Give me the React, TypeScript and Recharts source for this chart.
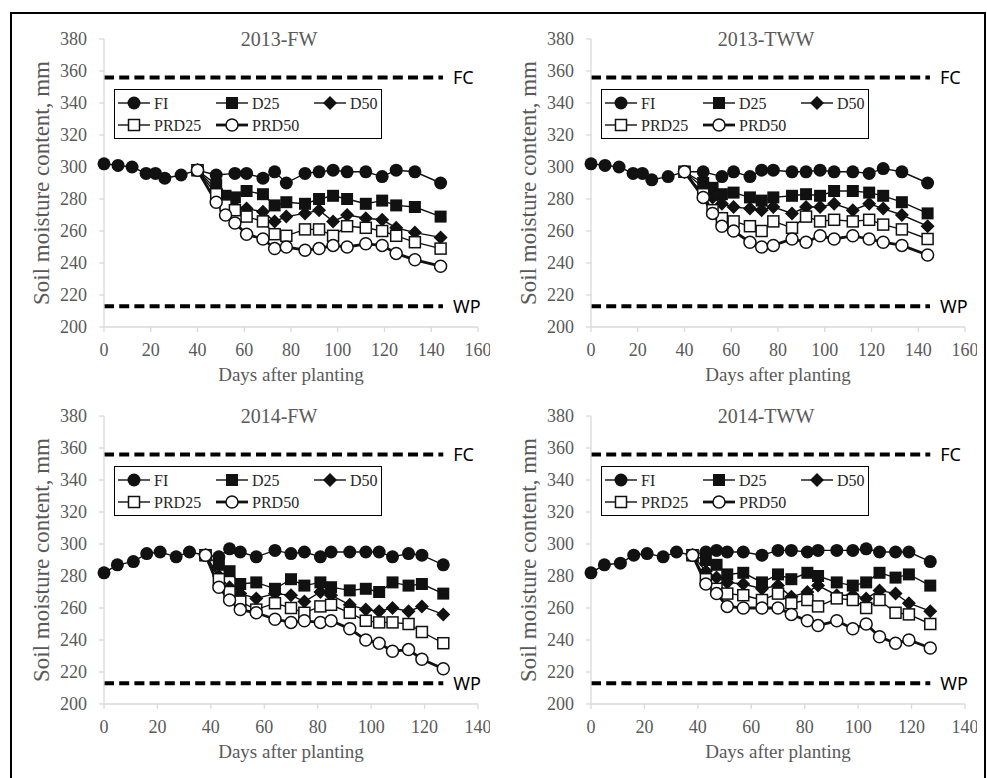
import React from 'react';
import { LineChart, Line, XAxis, YAxis } from 'recharts';

// ---------- data ----------
const seriesNames = ['FI', 'D25', 'D50', 'PRD25', 'PRD50'];
const yTicks = [200, 220, 240, 260, 280, 300, 320, 340, 360, 380];
const xTicks13 = [0, 20, 40, 60, 80, 100, 120, 140, 160];
const xTicks14 = [0, 20, 40, 60, 80, 100, 120, 140];
const fcValue = 356;
const wpValue = 213;
const refEnd13 = 145;
const refEnd14 = 127;

const fiDays13 = [0, 6, 12, 18, 22, 26, 33, 40, 48, 56, 61, 68, 73, 78, 86, 92, 98, 104, 112, 119, 125, 133, 144];
const trtDays13 = [40, 48, 52, 56, 61, 68, 73, 78, 86, 92, 98, 104, 112, 119, 125, 133, 144];
const fiDays14 = [0, 5, 11, 16, 21, 27, 32, 38, 43, 47, 51, 57, 64, 70, 75, 81, 85, 92, 98, 103, 108, 114, 119, 127];
const trtDays14 = [38, 43, 47, 51, 57, 64, 70, 75, 81, 85, 92, 98, 103, 108, 114, 119, 127];

// 2013-FW
const fw13FI = [302, 301, 300, 296, 296, 293, 295, 298, 295, 296, 296, 293, 297, 290, 296, 297, 298, 297, 297, 294, 298, 297, 290];
const fw13D25 = [298, 289, 282, 281, 285, 283, 276, 278, 277, 280, 282, 280, 277, 279, 276, 275, 269];
const fw13D50 = [298, 286, 279, 275, 274, 272, 266, 269, 271, 273, 266, 270, 268, 267, 262, 259, 256];
const fw13PRD25 = [298, 283, 276, 273, 269, 266, 258, 257, 261, 261, 257, 263, 262, 260, 257, 253, 249];
const fw13PRD50 = [298, 278, 270, 265, 258, 255, 249, 250, 248, 249, 251, 250, 252, 251, 246, 242, 238];

// 2013-TWW
const tww13FI = [302, 301, 300, 296, 296, 292, 294, 297, 297, 294, 297, 294, 298, 298, 297, 297, 298, 297, 297, 296, 299, 297, 290];
const tww13D25 = [297, 290, 287, 283, 284, 281, 279, 281, 282, 283, 282, 285, 285, 284, 282, 278, 271];
const tww13D50 = [297, 287, 281, 277, 275, 274, 273, 275, 271, 275, 275, 277, 273, 277, 274, 270, 263];
const tww13PRD25 = [297, 283, 273, 268, 266, 263, 260, 266, 262, 269, 266, 267, 266, 267, 264, 261, 255];
const tww13PRD50 = [297, 281, 271, 263, 260, 253, 250, 251, 255, 253, 257, 255, 257, 255, 253, 251, 245];

// 2014-FW
const fw14FI = [282, 287, 289, 294, 295, 292, 295, 293, 292, 297, 295, 292, 296, 294, 295, 292, 295, 295, 295, 295, 292, 294, 293, 287];
const fw14D25 = [293, 287, 283, 275, 276, 272, 278, 274, 276, 273, 271, 272, 270, 276, 274, 275, 269];
const fw14D50 = [293, 280, 273, 269, 266, 269, 268, 264, 270, 268, 262, 259, 258, 260, 258, 261, 256];
const fw14PRD25 = [293, 278, 270, 264, 259, 263, 260, 257, 261, 262, 257, 252, 251, 251, 250, 245, 238];
const fw14PRD50 = [293, 273, 265, 259, 257, 253, 251, 252, 251, 252, 247, 240, 238, 233, 234, 228, 222];

// 2014-TWW
const tww14FI = [282, 287, 288, 293, 294, 292, 295, 293, 295, 296, 295, 295, 293, 296, 296, 295, 296, 296, 296, 297, 295, 295, 295, 289];
const tww14D25 = [293, 290, 287, 281, 282, 276, 281, 278, 282, 280, 276, 274, 276, 282, 279, 281, 274];
const tww14D50 = [293, 283, 279, 276, 275, 272, 274, 267, 270, 274, 268, 268, 266, 271, 269, 263, 258];
const tww14PRD25 = [293, 278, 272, 269, 268, 265, 269, 263, 265, 261, 266, 265, 260, 265, 257, 256, 250];
const tww14PRD50 = [293, 275, 269, 261, 260, 260, 260, 256, 252, 249, 252, 247, 250, 242, 238, 240, 235];

// ---------- styles ----------
const INK = '#111111';
const GRAY = '#595959';
const AXIS = '#d9d9d9';
const SERIF = '"Liberation Serif", "Times New Roman", serif';
const SANS = '"Noto Sans", "Open Sans", sans-serif';

const W = 490;
const H = 400;
const ML = 104;
const MT = 39;
const MR = 12;
const XH = 73;

type Shape = 'circle' | 'square' | 'diamond' | 'openSquare' | 'openCircle';
const shapes: Shape[] = ['circle', 'square', 'diamond', 'openSquare', 'openCircle'];
const widths = [1.4, 1.4, 1.4, 1.4, 2.8];

function Marker({ shape, cx, cy }: { shape: Shape; cx: number; cy: number }) {
  switch (shape) {
    case 'circle':
      return <circle cx={cx} cy={cy} r={6.5} fill={INK} />;
    case 'square':
      return <rect x={cx - 6} y={cy - 6} width={12} height={12} fill={INK} />;
    case 'diamond':
      return <polygon points={`${cx},${cy - 7} ${cx + 7},${cy} ${cx},${cy + 7} ${cx - 7},${cy}`} fill={INK} />;
    case 'openSquare':
      return <rect x={cx - 5.5} y={cy - 5.5} width={11} height={11} fill="#fff" stroke={INK} strokeWidth={1.5} />;
    default:
      return <circle cx={cx} cy={cy} r={6} fill="#fff" stroke={INK} strokeWidth={1.5} />;
  }
}

const makeDot = (shape: Shape) => (props: any) => {
  const { cx, cy, index } = props;
  if (cx == null || cy == null) return <g key={`d-${index}`} />;
  return (
    <g key={`d-${index}`}>
      <Marker shape={shape} cx={cx} cy={cy} />
    </g>
  );
};

const zip = (xs: number[], ys: number[]) => xs.map((x, i) => ({ x, y: ys[i] }));

const refLabel = (text: string) => (p: any) => {
  const x = p.x ?? p.viewBox?.x;
  const y = p.y ?? p.viewBox?.y;
  if (p.index !== 1 || x == null) return <g key={`l-${p.index}`} />;
  return (
    <text key={`l-${p.index}`} x={x + 10} y={y} dominantBaseline="central" fontFamily={SANS} fontSize={18} fill="#000">
      {text}
    </text>
  );
};

function LegendBox() {
  const items = [0, 1, 2, 3, 4].map((i) => ({
    name: seriesNames[i],
    shape: shapes[i],
    col: i < 3 ? i : i - 3,
    row: i < 3 ? 0 : 1,
    sw: widths[i],
  }));
  return (
    <svg
      width={268}
      height={50}
      style={{ position: 'absolute', left: ML + 10, top: MT + 50, overflow: 'visible' }}
    >
      <rect x={0.5} y={0.5} width={267} height={49} fill="#fff" stroke="#000" strokeWidth={1} />
      {items.map((it) => {
        const x0 = 4 + it.col * 98;
        const y = 14 + it.row * 22;
        return (
          <g key={it.name}>
            <line x1={x0} x2={x0 + 32} y1={y} y2={y} stroke={INK} strokeWidth={it.sw} />
            <Marker shape={it.shape} cx={x0 + 16} cy={y} />
            <text x={x0 + 36} y={y} dominantBaseline="central" fontFamily={SERIF} fontSize={16} fill="#262626">
              {it.name}
            </text>
          </g>
        );
      })}
    </svg>
  );
}

type PanelProps = {
  left: number;
  top: number;
  title: string;
  xMax: number;
  xTicks: number[];
  fiDays: number[];
  trtDays: number[];
  refEnd: number;
  values: number[][];
};

function Panel({ left, top, title, xMax, xTicks, fiDays, trtDays, refEnd, values }: PanelProps) {
  const fcData = [{ x: 0, y: fcValue }, { x: refEnd, y: fcValue }];
  const wpData = [{ x: 0, y: wpValue }, { x: refEnd, y: wpValue }];
  const plotW = W - ML - MR;
  const plotH = H - MT - XH;
  return (
    <div style={{ position: 'absolute', left, top, width: W, height: H }}>
      <LineChart width={W} height={H} margin={{ top: MT, right: MR, bottom: 0, left: 0 }}>
        <XAxis
          type="number"
          dataKey="x"
          domain={[0, xMax]}
          ticks={xTicks}
          interval={0}
          allowDuplicatedCategory={false}
          height={XH}
          axisLine={{ stroke: AXIS, strokeWidth: 1.3 }}
          tickLine={{ stroke: AXIS, strokeWidth: 1.3 }}
          tickSize={5}
          tickMargin={11}
          tick={{ fill: GRAY, fontSize: 18, fontFamily: SERIF }}
        />
        <YAxis
          type="number"
          dataKey="y"
          domain={[200, 380]}
          ticks={yTicks}
          interval={0}
          width={ML}
          axisLine={{ stroke: AXIS, strokeWidth: 1.3 }}
          tickLine={{ stroke: AXIS, strokeWidth: 1.3 }}
          tickSize={5}
          tickMargin={12}
          tick={{ fill: GRAY, fontSize: 18, fontFamily: SERIF }}
        />
        <Line data={fcData} dataKey="y" stroke="#000" strokeWidth={4} strokeDasharray="10 5.2" dot={false} isAnimationActive={false} label={refLabel('FC')} />
        <Line data={wpData} dataKey="y" stroke="#000" strokeWidth={4} strokeDasharray="10 5.2" dot={false} isAnimationActive={false} label={refLabel('WP')} />
        {values.map((vals, i) => (
          <Line
            key={seriesNames[i]}
            name={seriesNames[i]}
            data={zip(i === 0 ? fiDays : trtDays, vals)}
            dataKey="y"
            stroke={INK}
            strokeWidth={widths[i]}
            dot={makeDot(shapes[i])}
            activeDot={false}
            isAnimationActive={false}
          />
        ))}
      </LineChart>
      <div
        style={{
          position: 'absolute',
          left: ML + plotW / 2 - 12 - 100,
          width: 200,
          top: MT - 12,
          textAlign: 'center',
          fontFamily: SERIF,
          fontSize: 20,
          color: GRAY,
          lineHeight: '24px',
        }}
      >
        {title}
      </div>
      <div
        style={{
          position: 'absolute',
          left: ML + plotW / 2 - 150,
          width: 300,
          top: MT + plotH + 37,
          textAlign: 'center',
          fontFamily: SERIF,
          fontSize: 19,
          color: GRAY,
          lineHeight: '22px',
        }}
      >
        Days after planting
      </div>
      <div
        style={{
          position: 'absolute',
          left: 42 - 160,
          width: 320,
          top: MT + plotH / 2 - 13,
          textAlign: 'center',
          fontFamily: SERIF,
          fontSize: 23,
          color: GRAY,
          lineHeight: '26px',
          transform: 'rotate(-90deg)',
        }}
      >
        Soil moisture content, mm
      </div>
      <LegendBox />
    </div>
  );
}

export default function App() {
  return (
    <div style={{ position: 'absolute', left: 0, top: 0, width: 987, height: 778, background: '#fff', overflow: 'hidden' }}>
      <div
        style={{
          position: 'absolute',
          left: 10,
          top: 12,
          width: 976,
          height: 800,
          border: '2px solid #000',
          boxSizing: 'border-box',
        }}
      />
      <Panel left={0} top={0} title="2013-FW" xMax={160} xTicks={xTicks13} fiDays={fiDays13} trtDays={trtDays13} refEnd={refEnd13}
        values={[fw13FI, fw13D25, fw13D50, fw13PRD25, fw13PRD50]} />
      <Panel left={487} top={0} title="2013-TWW" xMax={160} xTicks={xTicks13} fiDays={fiDays13} trtDays={trtDays13} refEnd={refEnd13}
        values={[tww13FI, tww13D25, tww13D50, tww13PRD25, tww13PRD50]} />
      <Panel left={0} top={377} title="2014-FW" xMax={140} xTicks={xTicks14} fiDays={fiDays14} trtDays={trtDays14} refEnd={refEnd14}
        values={[fw14FI, fw14D25, fw14D50, fw14PRD25, fw14PRD50]} />
      <Panel left={487} top={377} title="2014-TWW" xMax={140} xTicks={xTicks14} fiDays={fiDays14} trtDays={trtDays14} refEnd={refEnd14}
        values={[tww14FI, tww14D25, tww14D50, tww14PRD25, tww14PRD50]} />
    </div>
  );
}
